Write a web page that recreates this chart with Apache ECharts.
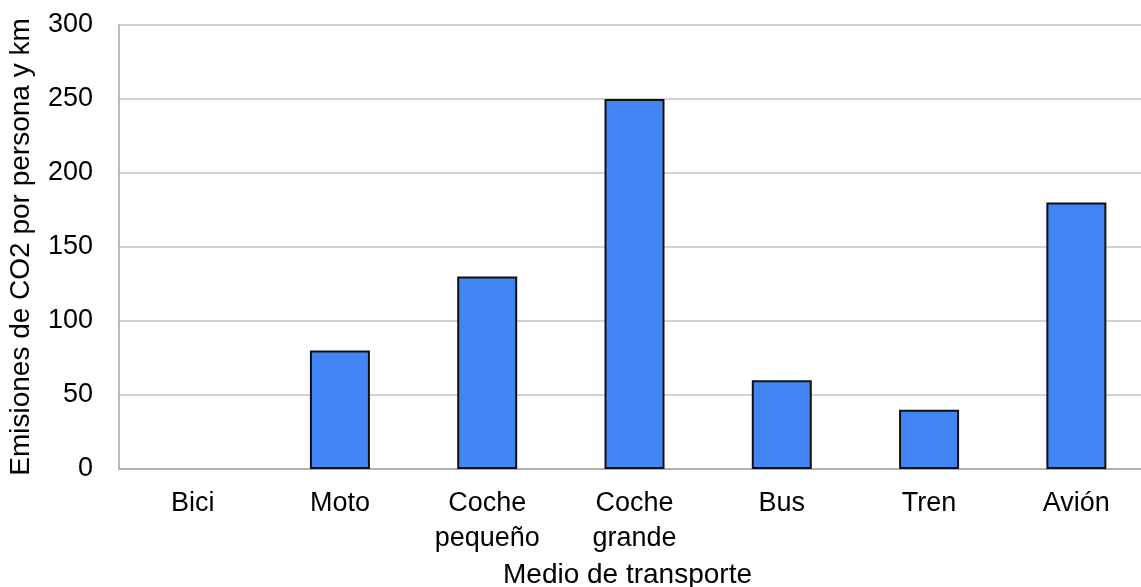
<!DOCTYPE html>
<html><head><meta charset="utf-8">
<script src="https://cdn.jsdelivr.net/npm/echarts@6/dist/echarts.min.js"></script>
<style>html,body{margin:0;padding:0;background:#fff}#c{width:1141px;height:587px}</style>
</head><body><div id="c"></div>
<script>
const categories = ['Bici', 'Moto', 'Coche\npequeño', 'Coche\ngrande', 'Bus', 'Tren', 'Avión'];
const values = [0, 80, 130, 250, 60, 40, 180];
const yTicks = [0, 50, 100, 150, 200, 250, 300];
const font = '"Liberation Sans", Arial, sans-serif';
const chart = echarts.init(document.getElementById('c'));
chart.setOption({
  animation: false,
  grid: { left: 119, top: 25, width: 1031, height: 444, containLabel: false, outerBoundsMode: 'none' },
  xAxis: {
    type: 'category', data: categories,
    name: 'Medio de transporte', nameLocation: 'middle', nameGap: 88,
    nameTextStyle: { fontFamily: font, fontSize: 28, color: '#000', padding: [0, 0, 0, -14] },
    axisLine: { lineStyle: { color: '#a6a6a6', width: 1.5 } },
    axisTick: { show: false },
    axisLabel: { fontFamily: font, fontSize: 27, color: '#000', margin: 17, lineHeight: 35, interval: 0 }
  },
  yAxis: {
    type: 'value', min: 0, max: 300, interval: 50,
    name: 'Emisiones de CO2 por persona y km', nameLocation: 'middle', nameGap: 84,
    nameTextStyle: { fontFamily: font, fontSize: 28, color: '#000' },
    axisLine: { show: true, lineStyle: { color: '#a6a6a6', width: 1.5 } },
    axisTick: { show: false },
    splitLine: { lineStyle: { color: '#c4c4c4', width: 1.5 } },
    axisLabel: { fontFamily: font, fontSize: 27, color: '#000', margin: 26,
      formatter: v => yTicks.includes(v) ? String(v) : '' }
  },
  series: [{
    type: 'bar',
    data: values.map(v => v === 0 ? { value: v, itemStyle: { borderWidth: 0 } } : v),
    barWidth: 60,
    itemStyle: { color: '#4285f4', borderColor: '#111', borderWidth: 2 }
  }]
});
</script></body></html>
